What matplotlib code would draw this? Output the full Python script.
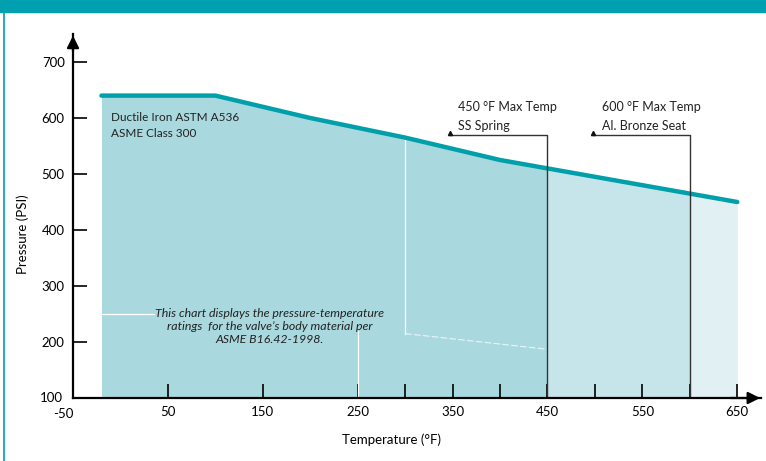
import numpy as np
import matplotlib.pyplot as plt
from matplotlib.patches import Rectangle
from matplotlib.lines import Line2D

plt.rcParams['font.family'] = ['Lato', 'DejaVu Sans']

# Pressure-temperature rating, ductile iron class 300
temps = [-20, 100, 200, 300, 400, 500, 600, 650]
psi = [640, 640, 600, 565, 525, 495, 465, 450]

# zone limits (deg F)
zone_edges = [-20, 450, 600, 650]
zone_colors = ['#aad8df', '#c6e5ea', '#e0f0f3']

# faint white guide lines left over in the background
guide_a_x = [-20, 35]
guide_a_y = [250, 250]
guide_b_x = [250, 250]
guide_b_y = [220, 100]
guide_c_x = [300, 300]
guide_c_y = [560, 215]
guide_d_x = [300, 450]
guide_d_y = [215, 187]

x_ticks = [50, 150, 250, 300, 350, 400, 450, 500, 550, 600, 650]
x_labels = ['50', '150', '250', '', '350', '', '450', '', '550', '', '650']
y_ticks = [200, 300, 400, 500, 600, 700]

teal = '#00a0b0'
line_teal = '#00a0aa'

fig = plt.figure(figsize=(7.66, 4.61), dpi=100)
ax = fig.add_axes([73 / 766, 1 - 398 / 461, 688 / 766, 364 / 461])
ax.set_xlim(-50, 675)
ax.set_ylim(100, 750)

# shaded zones
for i, c in enumerate(zone_colors):
    poly = ax.fill_between(temps, 100, psi, color=c, lw=0, zorder=1)
    clip = Rectangle((zone_edges[i], 100), zone_edges[i + 1] - zone_edges[i], 700,
                     transform=ax.transData)
    poly.set_clip_path(clip)

ax.plot(guide_a_x, guide_a_y, color='white', lw=0.9, zorder=2)
ax.plot(guide_b_x, guide_b_y, color='white', lw=0.9, zorder=2)
ax.plot(guide_c_x, guide_c_y, color='white', lw=0.9, zorder=2)
ax.plot(guide_d_x, guide_d_y, color='#e8f6f8', lw=0.8, ls=(0, (6, 2)), zorder=2)

ax.plot(temps, psi, color=line_teal, lw=3.2, solid_capstyle='round', zorder=4)

# max temp markers
for t, top, lx, l1, l2 in [(450, 570, 347, '450 °F Max Temp', 'SS Spring'),
                           (600, 570, 498, '600 °F Max Temp', 'Al. Bronze Seat')]:
    ax.plot([lx, t, t], [top, top, 100], color='#333333', lw=1.0, zorder=5)
    ax.plot([lx], [top + 3], marker='^', color='#111111', ms=3, zorder=5)
    ax.text(lx + 9, 620, l1, fontsize=9, va='center', ha='left', color='#222222')
    ax.text(lx + 9, 586, l2, fontsize=9, va='center', ha='left', color='#222222')

ax.text(-10, 601, 'Ductile Iron ASTM A536', fontsize=8.5, va='center', color='#222222')
ax.text(-10, 573, 'ASME Class 300', fontsize=8.5, va='center', color='#222222')

ax.text(157, 228, 'This chart displays the pressure-temperature\n'
        'ratings  for the valve\u2019s body material per\nASME B16.42-1998.',
        fontsize=8.9, style='italic', ha='center', va='center', color='#222222',
        linespacing=1.2, zorder=6)

# axes styling
for s in ['top', 'right']:
    ax.spines[s].set_visible(False)
for s in ['left', 'bottom']:
    ax.spines[s].set_linewidth(1.6)
    ax.spines[s].set_zorder(7)
ax.set_xticks(x_ticks)
ax.set_xticklabels(x_labels)
ax.set_yticks(y_ticks)
ax.tick_params(axis='both', direction='in', length=10, width=1.2, labelsize=9.5, pad=6)
ax.tick_params(axis='x', pad=6)
ax.text(-61, 100, '100', fontsize=9.5, ha='right', va='center')
ax.text(-60, 82, '-50', fontsize=9.5, ha='center', va='top')

ax.annotate('', xy=(-50, 752), xytext=(-50, 715),
            arrowprops=dict(arrowstyle='-|>', color='black', lw=1.6, mutation_scale=18),
            annotation_clip=False)
ax.annotate('', xy=(677, 100), xytext=(640, 100),
            arrowprops=dict(arrowstyle='-|>', color='black', lw=1.6, mutation_scale=18),
            annotation_clip=False)

ax.set_xlabel('Temperature (°F)', fontsize=9.5)
ax.xaxis.set_label_coords(318 / 688, -35 / 364)
ax.set_ylabel('Pressure (PSI)', fontsize=9.5)
ax.yaxis.set_label_coords(-44 / 688, 0.45)

# banner and frame
fig.patches.append(Rectangle((0, 1 - 12 / 461), 1, 12 / 461, transform=fig.transFigure,
                             color=teal, zorder=0))
fig.lines.append(Line2D([3.5 / 766, 3.5 / 766], [0, 1], transform=fig.transFigure,
                        color=teal, lw=1.2))

plt.savefig('out.png', dpi=100)
